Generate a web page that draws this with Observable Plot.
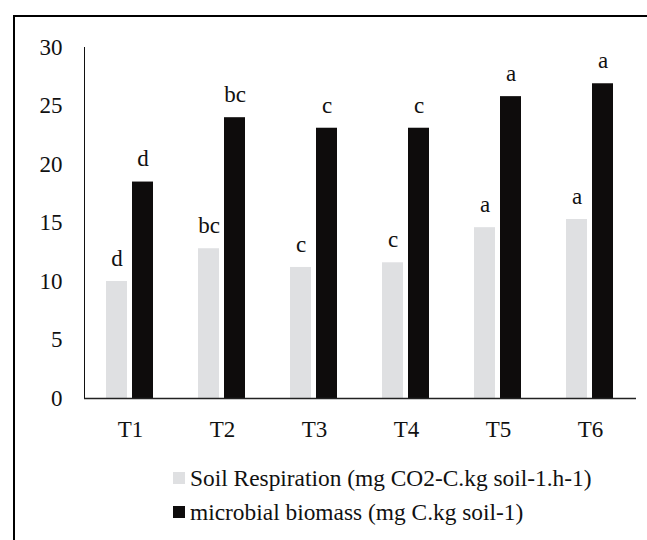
<!DOCTYPE html>
<html>
<head>
<meta charset="utf-8">
<script src="https://cdn.jsdelivr.net/npm/d3@7"></script>
<script src="https://cdn.jsdelivr.net/npm/@observablehq/plot@0.6"></script>
<style>
  html, body { margin: 0; padding: 0; background: #fff; overflow: hidden; }
  body { width: 647px; height: 540px; position: relative; font-family: "Liberation Serif", "Times New Roman", serif; }
  #frame { position: absolute; left: 13px; top: 15px; width: 700px; height: 600px; border: 2px solid #000; box-sizing: border-box; }
  #chart { position: absolute; left: 0; top: 0; }
  #chart svg text { font-family: "Liberation Serif", "Times New Roman", serif !important; font-size: 23px !important; }
  #legend { position: absolute; left: 173px; top: 461px; font-size: 23.4px; color: #111; font-family: "Liberation Serif", "Times New Roman", serif; white-space: nowrap; }
  .item { display: flex; align-items: center; height: 34px; }
  .sw { width: 12px; height: 12px; margin-right: 5px; flex: none; }
</style>
</head>
<body>
<div id="frame"></div>
<div id="chart"></div>
<div id="legend"></div>
<script>
const treatments = ["T1", "T2", "T3", "T4", "T5", "T6"];
const seriesKeys = ["sr", "mb"];
const seriesNames = ["Soil Respiration (mg CO2-C.kg soil-1.h-1)", "microbial biomass (mg C.kg soil-1)"];
const seriesColors = ["#dfe0e2", "#0e0c0c"];
const soilRespiration = [10.0, 12.8, 11.2, 11.6, 14.6, 15.3];
const microbialBiomass = [18.5, 24.0, 23.1, 23.1, 25.8, 26.9];
const srLetters = ["d", "bc", "c", "c", "a", "a"];
const mbLetters = ["d", "bc", "c", "c", "a", "a"];
const yTicks = [0, 5, 10, 15, 20, 25, 30];

const data = [];
treatments.forEach((t, i) => {
  data.push({t, s: "sr", v: soilRespiration[i], lab: srLetters[i]});
  data.push({t, s: "mb", v: microbialBiomass[i], lab: mbLetters[i]});
});

const plot = Plot.plot({
  width: 647,
  height: 455,
  marginLeft: 83,
  marginRight: 10,
  marginTop: 47,
  marginBottom: 57,
  style: {fontFamily: "'Liberation Serif', 'Times New Roman', serif", fontSize: "23px", color: "#111", background: "transparent", overflow: "visible"},
  fx: {domain: treatments, padding: 0, label: null, tickSize: 0, tickPadding: 22},
  x: {domain: seriesKeys, paddingInner: 0.192, paddingOuter: 0.865, axis: null},
  y: {domain: [0, 30], ticks: yTicks, tickSize: 0, tickPadding: 22, label: null, line: true},
  color: {domain: seriesKeys, range: seriesColors},
  marks: [
    Plot.barY(data, {fx: "t", x: "s", y: "v", fill: "s"}),
    Plot.ruleY([0], {stroke: "#222", strokeWidth: 1.5}),
    Plot.text(data, {fx: "t", x: "s", y: "v", text: "lab", dy: -23, fontSize: 23, fill: "#111"})
  ]
});
document.getElementById("chart").appendChild(plot);

const legend = document.getElementById("legend");
seriesKeys.forEach((k, i) => {
  const row = document.createElement("div");
  row.className = "item";
  const sw = document.createElement("span");
  sw.className = "sw";
  sw.style.background = seriesColors[i];
  const tx = document.createElement("span");
  tx.textContent = seriesNames[i];
  row.appendChild(sw);
  row.appendChild(tx);
  legend.appendChild(row);
});
</script>
</body>
</html>
